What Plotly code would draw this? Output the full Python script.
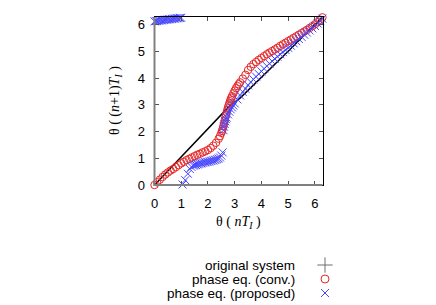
import plotly.graph_objects as go

# ---------------- data ----------------
orig_x = [0.0, 0.5, 1.0, 1.5, 2.0, 2.5, 2.8, 3.2, 4.0, 5.0, 6.28]
orig_y = [0.0, 0.53, 1.06, 1.6, 2.13, 2.67, 2.95, 3.25, 4.02, 5.0, 6.28]

conv_x = [0.0, 0.1, 0.2, 0.3, 0.4, 0.5, 0.6, 0.7, 0.8, 0.9, 1.0, 1.1, 1.2, 1.3, 1.4,
          1.5, 1.6, 1.7, 1.8, 1.9, 2.0, 2.1, 2.2, 2.3, 2.4, 2.45, 2.5, 2.525, 2.55,
          2.575, 2.6, 2.625, 2.65, 2.675, 2.7, 2.725, 2.75, 2.775, 2.8, 2.825, 2.85,
          2.875, 2.9, 2.95, 3.0, 3.05, 3.1, 3.15, 3.2, 3.3, 3.4, 3.5, 3.6,
          3.7, 3.8, 3.9, 4.0, 4.1, 4.2, 4.3, 4.4, 4.5, 4.6, 4.7, 4.8, 4.9, 5.0, 5.1,
          5.2, 5.3, 5.4, 5.5, 5.6, 5.7, 5.8, 5.9, 6.0, 6.1, 6.2, 6.28]
conv_y = [0.0, 0.1, 0.2, 0.3, 0.39, 0.47, 0.54, 0.6, 0.67, 0.74, 0.81, 0.87, 0.93, 0.98,
          1.03, 1.08, 1.13, 1.17, 1.22, 1.26, 1.31, 1.38, 1.47, 1.58, 1.73, 1.83, 1.95,
          2.02, 2.1, 2.2, 2.3, 2.41, 2.52, 2.62, 2.72, 2.81, 2.9, 2.98, 3.05, 3.13, 3.2,
          3.26, 3.32, 3.43, 3.53, 3.62, 3.7, 3.77, 3.84, 3.98,
          4.12, 4.3, 4.42, 4.52, 4.6, 4.68, 4.75, 4.82, 4.89, 4.95, 5.01, 5.07, 5.13,
          5.2, 5.26, 5.32, 5.38, 5.44, 5.5, 5.56, 5.62, 5.68, 5.74, 5.8, 5.87, 5.94,
          6.01, 6.09, 6.18, 6.27]

prop_x = [0.0, 0.05, 0.1, 0.15, 0.2, 0.25, 0.3, 0.35, 0.4, 0.45, 0.5, 0.55, 0.6, 0.65,
          0.7, 0.75, 0.8, 0.85, 0.9, 0.95, 1.0,
          1.05, 1.15, 1.25, 1.32, 1.38, 1.45, 1.5, 1.55, 1.6, 1.65, 1.7, 1.75, 1.8,
          1.85, 1.9, 1.95, 2.0, 2.05, 2.1, 2.15, 2.2, 2.25, 2.3, 2.35, 2.4, 2.45, 2.5,
          2.55,
          2.58, 2.6, 2.625, 2.65, 2.675, 2.7, 2.75, 2.8, 2.85, 2.9, 2.95, 3.0, 3.1,
          3.2, 3.3, 3.4, 3.5,
          3.6, 3.7, 3.8, 3.9, 4.0, 4.1, 4.2, 4.3, 4.4, 4.5, 4.6, 4.7, 4.8, 4.9, 5.0,
          5.1, 5.2, 5.3, 5.4, 5.5, 5.6, 5.7, 5.8, 5.9, 6.0, 6.1, 6.2, 6.28]
prop_y = [6.12, 6.13, 6.13, 6.14, 6.15, 6.16, 6.16, 6.17, 6.18, 6.18, 6.19, 6.2, 6.2,
          6.21, 6.22, 6.22, 6.23, 6.24, 6.24, 6.25, 6.25,
          0.02, 0.18, 0.42, 0.6, 0.68, 0.72, 0.74, 0.75, 0.77, 0.78, 0.8, 0.81, 0.82,
          0.84, 0.85, 0.86, 0.87, 0.88, 0.9, 0.91, 0.92, 0.94, 0.95, 0.97, 0.99, 1.03,
          1.1, 1.22,
          2.05, 2.18, 2.28, 2.38, 2.46, 2.52, 2.64, 2.74, 2.83, 2.9, 2.97, 3.05, 3.2,
          3.35, 3.48, 3.6, 3.73,
          3.85, 3.95, 4.05, 4.15, 4.25, 4.35, 4.45, 4.54, 4.63, 4.72, 4.8, 4.89,
          4.97, 5.05, 5.13, 5.21, 5.3, 5.38, 5.46, 5.54, 5.62, 5.7, 5.78, 5.86, 5.95,
          6.04, 6.13, 6.22]

tick_vals = [0, 1, 2, 3, 4, 5, 6]
legend_names = ["original system", "phase eq. (conv.)", "phase eq. (proposed)"]

# ---------------- layout constants (pixels in a 436x305 page) ----------------
W, H = 436, 305
PX_L, PX_R, PX_T, PX_B = 154.5, 322.5, 17, 185
LEG_TEXT_X, LEG_KEY_X = 296, 325
LEG_ROWS = [265, 279, 293]

RED = "rgb(230,40,40)"
BLUE = "rgb(70,70,255)"
FONT = "Liberation Sans"
SERIF = "Liberation Serif"

fig = go.Figure()

fig.add_trace(go.Scatter(x=orig_x, y=orig_y, mode="lines", name=legend_names[0],
                         line=dict(color="black", width=1.5), cliponaxis=False))
fig.add_trace(go.Scatter(x=conv_x, y=conv_y, mode="markers", name=legend_names[1],
                         marker=dict(symbol="circle-open", size=7.5, color=RED,
                                     line=dict(width=1, color=RED)),
                         cliponaxis=False))
fig.add_trace(go.Scatter(x=prop_x, y=prop_y, mode="markers", name=legend_names[2],
                         marker=dict(symbol="x-thin", size=8, color=BLUE,
                                     line=dict(width=1, color=BLUE)),
                         cliponaxis=False))

# legend keys drawn on an overlay axis in page pixels
key_styles = [
    dict(symbol="cross-thin", size=11, color="rgb(110,110,110)",
         line=dict(width=1, color="rgb(110,110,110)")),
    dict(symbol="circle-open", size=8, color=RED, line=dict(width=1, color=RED)),
    dict(symbol="x-thin", size=8, color=BLUE, line=dict(width=1, color=BLUE)),
]
for row, st in zip(LEG_ROWS, key_styles):
    fig.add_trace(go.Scatter(x=[LEG_KEY_X], y=[row], xaxis="x2", yaxis="y2",
                             mode="markers", marker=st, showlegend=False,
                             hoverinfo="skip", cliponaxis=False))

axis_common = dict(range=[0, 6.2832], tickvals=tick_vals, ticks="inside", ticklen=4,
                   tickcolor="rgb(80,80,80)", tickwidth=1, mirror="ticks",
                   showline=True, linecolor="black", linewidth=1,
                   showgrid=False, zeroline=False,
                   tickfont=dict(family=FONT, size=13, color="black"))

annotations = [
    dict(xref="x2", yref="y2", x=(PX_L + PX_R) / 2, y=222, showarrow=False,
         text="θ ( <i>nT</i><sub><i>I</i></sub> )",
         font=dict(family=SERIF, size=14, color="black")),
    dict(xref="x2", yref="y2", x=115, y=(PX_T + PX_B) / 2, showarrow=False, textangle=-90,
         text="θ ( (<i>n</i>+1)<i>T</i><sub><i>I</i></sub> )",
         font=dict(family=SERIF, size=14, color="black")),
]
for row, name in zip(LEG_ROWS, legend_names):
    annotations.append(dict(xref="x2", yref="y2", x=LEG_TEXT_X, y=row, xanchor="right",
                            showarrow=False, text=name, borderpad=0,
                            font=dict(family=FONT, size=13.5, color="black")))

shapes = [
    dict(type="line", xref="x2", yref="y2", x0=PX_L, x1=PX_L, y0=PX_T, y1=PX_B + 1,
         line=dict(color="rgb(128,128,128)", width=2), layer="below"),
    dict(type="line", xref="x2", yref="y2", x0=PX_L - 1, x1=PX_R, y0=PX_B, y1=PX_B,
         line=dict(color="rgb(128,128,128)", width=2), layer="below"),
]

fig.update_layout(
    width=W, height=H,
    margin=dict(l=0, r=0, t=0, b=0, autoexpand=False),
    paper_bgcolor="white", plot_bgcolor="rgba(0,0,0,0)",
    showlegend=False,
    xaxis=dict(domain=[PX_L / W, PX_R / W], anchor="y", ticklabelstandoff=6, **axis_common),
    yaxis=dict(domain=[(H - PX_B) / H, (H - PX_T) / H], anchor="x", ticklabelstandoff=6,
               **axis_common),
    xaxis2=dict(domain=[0, 1], range=[0, W], visible=False, fixedrange=True, anchor="y2"),
    yaxis2=dict(domain=[0, 1], range=[H, 0], visible=False, fixedrange=True, anchor="x2"),
    annotations=annotations,
    shapes=shapes,
)

fig.write_html("out.html", config={"displayModeBar": False},
               post_script="document.body.style.margin='0';document.body.style.padding='0';")
